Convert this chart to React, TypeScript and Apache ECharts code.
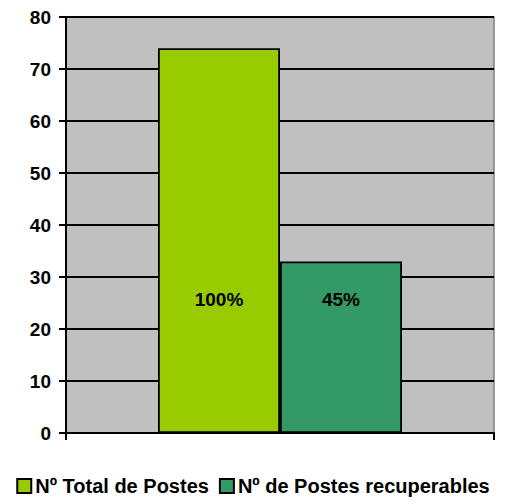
import React, { useEffect, useRef } from "react";
import * as echarts from "echarts";

const categories = [""];
const seriesNames = ["Nº Total de Postes", "Nº de Postes recuperables"];
const seriesValues = [74, 33];
const seriesLabels = ["100%", "45%"];
const seriesColors = ["#99CC00", "#339966"];
const yTicks = { min: 0, max: 80, interval: 10 };

export default function App() {
  const ref = useRef<HTMLDivElement>(null);
  useEffect(() => {
    document.body.style.margin = "0";
    const chart = echarts.init(ref.current!, null, { renderer: "svg" });
    const font = "'Liberation Sans', Arial, sans-serif";
    chart.setOption({
      animation: false,
      backgroundColor: "#FFFFFF",
      grid: {
        left: 66,
        right: 12,
        top: 17,
        bottom: 71,
        containLabel: false,
        show: true,
        backgroundColor: "#C0C0C0",
        borderColor: "#808080",
        borderWidth: 1.5,
      },
      legend: {
        bottom: 3,
        left: "center",
        itemWidth: 14,
        itemHeight: 14,
        itemGap: 10,
        icon: "rect",
        textStyle: { fontFamily: font, fontWeight: "bold", fontSize: 20, color: "#000", padding: [0, 0, 0, -1] },
        data: seriesNames,
      },
      xAxis: {
        type: "category",
        data: categories,
        axisLine: { lineStyle: { color: "#000", width: 2 } },
        axisTick: { show: true, length: 7, lineStyle: { color: "#000", width: 2 } },
        axisLabel: { show: false },
        splitLine: { show: false },
      },
      yAxis: {
        type: "value",
        min: yTicks.min,
        max: yTicks.max,
        interval: yTicks.interval,
        axisLine: { show: true, lineStyle: { color: "#000", width: 2 } },
        axisTick: { show: true, length: 7, lineStyle: { color: "#000", width: 2 } },
        axisLabel: { fontFamily: font, fontWeight: "bold", fontSize: 19, color: "#000", margin: 15 },
        splitLine: { show: true, lineStyle: { color: "#000", width: 1.8 } },
      },
      series: seriesNames.map((name, i) => ({
        name,
        type: "bar",
        data: [seriesValues[i]],
        barWidth: 122,
        barGap: "0%",
        itemStyle: { color: seriesColors[i], borderColor: "#000", borderWidth: 1.8 },
        label: {
          show: true,
          position: "insideBottom",
          distance: 124,
          formatter: () => seriesLabels[i],
          fontFamily: font,
          fontWeight: "bold",
          fontSize: 19,
          color: "#000",
        },
      })),
    });
    return () => chart.dispose();
  }, []);
  return <div ref={ref} style={{ width: 506, height: 504 }} />;
}
